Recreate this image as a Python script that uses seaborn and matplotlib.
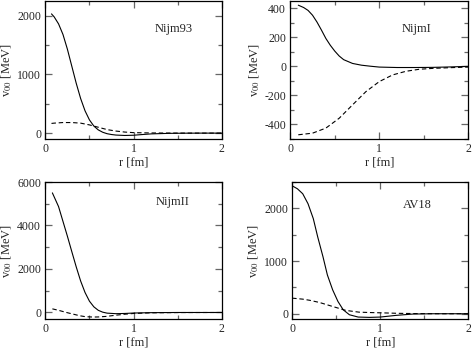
import numpy as np
import pandas as pd
import seaborn as sns
import matplotlib.pyplot as plt
from matplotlib.ticker import MultipleLocator

# Nijm93
r_n93_s = [0.07, 0.1, 0.15, 0.2, 0.25, 0.3, 0.35, 0.4, 0.45, 0.5, 0.55, 0.6, 0.65, 0.7, 0.75, 0.8, 0.9, 1.0, 1.1, 1.2, 1.4, 1.6, 1.8, 2.0]
v_n93_s = [2030, 1980, 1860, 1680, 1430, 1140, 850, 590, 380, 225, 120, 55, 15, -10, -24, -33, -40, -36, -24, -13, -4, -1, 0, 0]
r_n93_d = [0.07, 0.1, 0.2, 0.3, 0.4, 0.5, 0.6, 0.7, 0.8, 0.9, 1.0, 1.2, 1.4, 1.6, 2.0]
v_n93_d = [165, 170, 180, 180, 170, 140, 100, 60, 35, 18, 8, 3, 1, 0, 0]

# NijmI
r_n1_s = [0.09, 0.15, 0.2, 0.25, 0.3, 0.35, 0.4, 0.45, 0.5, 0.55, 0.6, 0.7, 0.8, 0.9, 1.0, 1.2, 1.4, 1.6, 1.8, 2.0]
v_n1_s = [421, 405, 385, 352, 305, 250, 192, 145, 105, 71, 46, 20, 8, 1, -5, -8, -8, -7, -4, 0]
r_n1_d = [0.09, 0.25, 0.4, 0.55, 0.7, 0.85, 1.0, 1.15, 1.3, 1.45, 1.6, 1.8, 2.0]
v_n1_d = [-471, -460, -425, -357, -265, -174, -105, -59, -34, -20, -14, -9, -5]

# NijmII
r_n2_s = [0.08, 0.15, 0.2, 0.25, 0.3, 0.35, 0.4, 0.45, 0.5, 0.55, 0.6, 0.65, 0.7, 0.8, 0.9, 1.0, 1.2, 1.5, 2.0]
v_n2_s = [5500, 4870, 4190, 3510, 2800, 2100, 1450, 920, 520, 260, 100, 15, -30, -55, -45, -25, -8, 0, 0]
r_n2_d = [0.08, 0.15, 0.24, 0.3, 0.39, 0.45, 0.54, 0.6, 0.69, 0.8, 0.9, 1.0, 1.2, 1.5, 2.0]
v_n2_d = [167, 100, 0, -60, -150, -190, -210, -205, -180, -125, -80, -45, -15, -3, 0]

# AV18
r_av_s = [0.0, 0.06, 0.12, 0.18, 0.24, 0.29, 0.35, 0.4, 0.46, 0.52, 0.58, 0.65, 0.75, 0.88, 1.0, 1.18, 1.37, 1.6, 2.0]
v_av_s = [2428, 2371, 2277, 2088, 1805, 1459, 1082, 736, 453, 233, 75, -19, -63, -69, -63, -31, -6, 0, 0]
r_av_d = [0.0, 0.12, 0.2, 0.31, 0.46, 0.61, 0.76, 0.9, 1.0, 1.2, 1.4, 1.7, 2.0]
v_av_d = [296, 277, 255, 214, 138, 63, 30, 22, 18, 8, 3, 0, 0]

panels = [
    ("Nijm93", r_n93_s, v_n93_s, r_n93_d, v_n93_d, (-100, 2250), 1000, 500, [0.096, 0.6006, 0.374, 0.3966], (0.73, 0.80)),
    ("NijmI", r_n1_s, v_n1_s, r_n1_d, v_n1_d, (-500, 450), 200, 100, [0.615, 0.6006, 0.377, 0.3966], (0.71, 0.80)),
    ("NijmII", r_n2_s, v_n2_s, r_n2_d, v_n2_d, (-300, 6000), 2000, 1000, [0.096, 0.0833, 0.374, 0.3937], (0.72, 0.855)),
    ("AV18", r_av_s, v_av_s, r_av_d, v_av_d, (-100, 2500), 1000, 500, [0.619, 0.0833, 0.373, 0.3937], (0.71, 0.83)),
]

sns.set_theme(style="ticks")
plt.rcParams['font.family'] = ['Liberation Serif', 'DejaVu Serif']
plt.rcParams['mathtext.fontset'] = 'stix'
plt.rcParams['axes.unicode_minus'] = False

fig = plt.figure(figsize=(4.72, 3.48), dpi=100)

for name, rs, vs, rd, vd, ylim, major, minor, pos, tpos in panels:
    ax = fig.add_axes(pos)
    sns.lineplot(x=rs, y=vs, ax=ax, color="black", lw=0.8)
    sns.lineplot(x=rd, y=vd, ax=ax, color="black", lw=0.8, linestyle=(0, (4, 2.5)))
    ax.set_xlim(0, 2)
    ax.set_ylim(*ylim)
    ax.xaxis.set_major_locator(MultipleLocator(1))
    ax.xaxis.set_minor_locator(MultipleLocator(0.5))
    ax.yaxis.set_major_locator(MultipleLocator(major))
    ax.yaxis.set_minor_locator(MultipleLocator(minor))
    ax.tick_params(which="both", direction="in", top=True, right=True,
                   labelsize=8.5, color="0.4", pad=3)
    ax.tick_params(which="major", length=5, width=0.9)
    ax.tick_params(which="minor", length=3, width=0.9)
    for s in ax.spines.values():
        s.set_linewidth(0.9)
        s.set_color("black")
    ax.set_xlabel("r [fm]", fontsize=9, labelpad=1)
    ax.set_ylabel(r"v$_{00}$ [MeV]", fontsize=9, labelpad=2)
    ax.text(tpos[0], tpos[1], name, transform=ax.transAxes, fontsize=9,
            ha="center", va="center")

fig.savefig("out.png", dpi=100)
